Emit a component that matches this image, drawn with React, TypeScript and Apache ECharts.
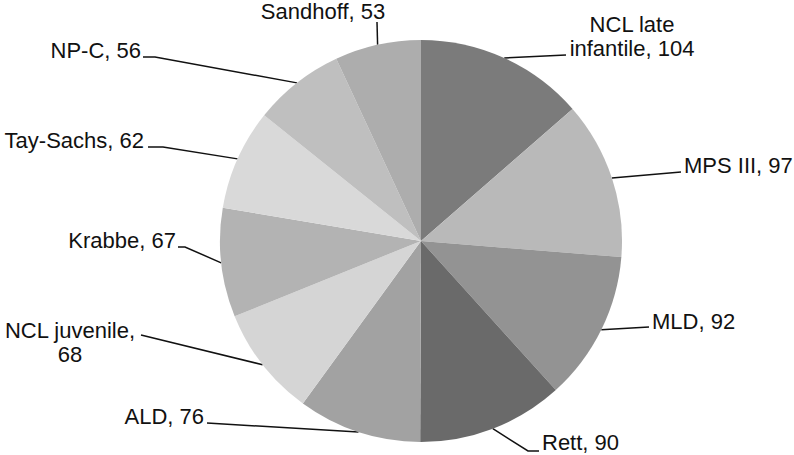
import React, { useEffect, useRef } from 'react';
import * as echarts from 'echarts';

const categories = [
  'NCL late infantile',
  'MPS III',
  'MLD',
  'Rett',
  'ALD',
  'NCL juvenile',
  'Krabbe',
  'Tay-Sachs',
  'NP-C',
  'Sandhoff',
];
const values = [104, 97, 92, 90, 76, 68, 67, 62, 56, 53];
const sliceColors = [
  '#7b7b7b',
  '#b9b9b9',
  '#939393',
  '#6a6a6a',
  '#a2a2a2',
  '#d5d5d5',
  '#b3b3b3',
  '#d9d9d9',
  '#bfbfbf',
  '#adadad',
];
// number of name words on the first label line (-1: single line)
const firstLineWords = [2, -1, -1, -1, -1, 2, -1, -1, -1, -1];

// label placement (layout only)
const labelPlacement: { x: number; y: number; align: string; tail: number[][] }[] = [
  { x: 632, y: 36, align: 'center', tail: [[566, 55]] },
  { x: 684, y: 165, align: 'left', tail: [[681, 172]] },
  { x: 652, y: 321, align: 'left', tail: [[649, 327]] },
  { x: 542, y: 442, align: 'left', tail: [[528, 451], [539, 451]] },
  { x: 204, y: 416, align: 'right', tail: [[207, 423]] },
  { x: 70, y: 342, align: 'center', tail: [[141, 335]] },
  { x: 176, y: 240, align: 'right', tail: [[185, 247], [178, 247]] },
  { x: 144, y: 140, align: 'right', tail: [[163, 147], [148, 147]] },
  { x: 141, y: 50, align: 'right', tail: [[155, 57], [143, 57]] },
  { x: 323, y: 11, align: 'center', tail: [[377, 22]] },
];

function labelText(i: number): string {
  const name = categories[i];
  const v = values[i];
  const n = firstLineWords[i];
  if (n < 0) return `${name}, ${v}`;
  const words = name.split(' ');
  if (n >= words.length) return `${name},\n${v}`;
  return `${words.slice(0, n).join(' ')}\n${words.slice(n).join(' ')}, ${v}`;
}

export default function App() {
  const ref = useRef<HTMLDivElement>(null);
  useEffect(() => {
    if (!ref.current) return;
    const chart = echarts.init(ref.current, null, { renderer: 'svg' });
    chart.setOption({
      animation: false,
      backgroundColor: '#ffffff',
      series: [
        {
          type: 'pie',
          center: [421, 241],
          radius: 201,
          startAngle: 90,
          clockwise: true,
          avoidLabelOverlap: false,
          data: categories.map((c, i) => ({
            name: c,
            value: values[i],
            itemStyle: { color: sliceColors[i] },
          })),
          itemStyle: { borderWidth: 0 },
          emphasis: { disabled: true },
          label: {
            show: true,
            position: 'outside',
            formatter: (p: any) => labelText(p.dataIndex),
            fontFamily: '"Liberation Sans", Arial, sans-serif',
            fontSize: 22,
            lineHeight: 24,
            color: '#111111',
          },
          labelLine: {
            show: true,
            length: 10,
            length2: 10,
            smooth: false,
            lineStyle: { color: '#111111', width: 1.5 },
          },
          labelLayout: (params: any) => {
            const lp = labelPlacement[params.dataIndex];
            const start = params.labelLinePoints ? params.labelLinePoints[0] : null;
            const res: any = {
              x: lp.x,
              y: lp.y,
              align: lp.align,
              verticalAlign: 'middle',
            };
            if (start) res.labelLinePoints = [start, ...lp.tail];
            return res;
          },
        },
      ],
    });
    return () => chart.dispose();
  }, []);
  return (
    <div
      ref={ref}
      style={{ position: 'fixed', left: 0, top: 0, width: 794, height: 455 }}
    />
  );
}
